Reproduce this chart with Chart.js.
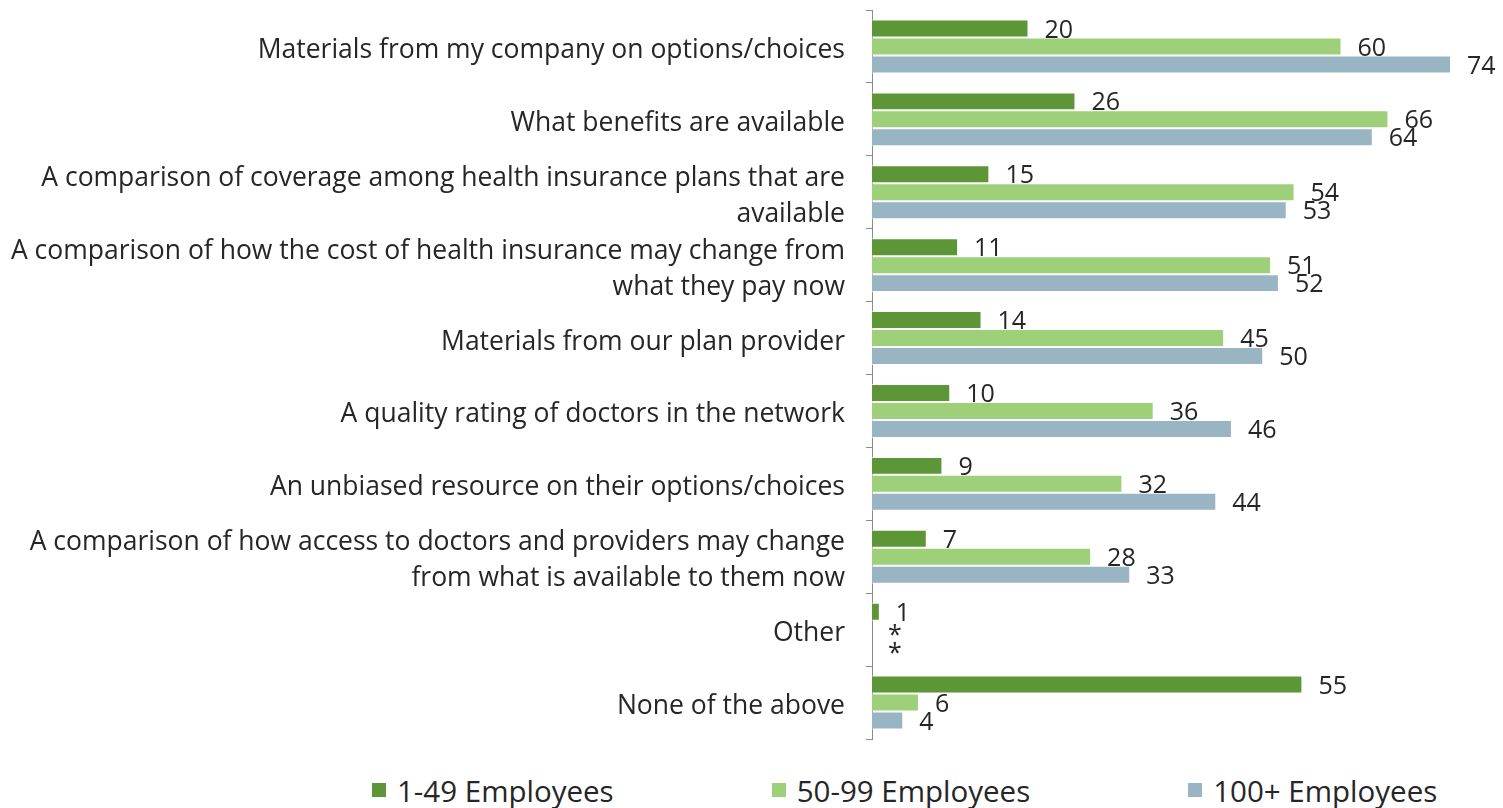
<html>
<head>
<title>Information employees need</title>
<script src="https://cdn.jsdelivr.net/npm/chart.js"></script>
<style>
  body { margin: 0; background: #fff; font-family: "Open Sans", sans-serif; }
  #wrap { position: relative; width: 1503px; height: 760px; }
  #legend { display: flex; align-items: center; padding-left: 372px; margin-top: 14px; height: 32px; color: #262626; font-size: 29.5px; white-space: nowrap; }
  #legend .item { display: flex; align-items: center; flex-shrink: 0; margin-right: 158px; }
  #legend .box { width: 14px; height: 14px; margin-right: 11px; flex-shrink: 0; }
</style>
</head>
<body>
<div id="wrap"><canvas id="myChart"></canvas></div>
<div id="legend"></div>
<script>
const categories = [
  'Materials from my company on options/choices',
  'What benefits are available',
  ['A comparison of coverage among health insurance plans that are', 'available'],
  ['A comparison of how the cost of health insurance may change from', 'what they pay now'],
  'Materials from our plan provider',
  'A quality rating of doctors in the network',
  'An unbiased resource on their options/choices',
  ['A comparison of how access to doctors and providers may change', 'from what is available to them now'],
  'Other',
  'None of the above'
];
const seriesNames = ['1-49 Employees', '50-99 Employees', '100+ Employees'];
// 0 = less than 0.5%, shown as *
const small = [20, 26, 15, 11, 14, 10, 9, 7, 1, 55];
const medium = [60, 66, 54, 51, 45, 36, 32, 28, 0, 6];
const large = [74, 64, 53, 52, 50, 46, 44, 33, 0, 4];
const colors = ['#5d9636', '#9ed07a', '#99b5c3'];

const textColor = '#262626';
const fontFamily = '"Open Sans", sans-serif';

// value labels at the end of each bar
const valueLabels = {
  id: 'valueLabels',
  afterDatasetsDraw(chart) {
    const ctx = chart.ctx;
    ctx.save();
    ctx.font = '25px ' + fontFamily;
    ctx.fillStyle = textColor;
    ctx.textAlign = 'left';
    ctx.textBaseline = 'middle';
    chart.data.datasets.forEach((ds, i) => {
      chart.getDatasetMeta(i).data.forEach((bar, j) => {
        const v = ds.data[j];
        const txt = v === 0 ? '*' : String(v);
        ctx.fillText(txt, bar.x + 16, bar.y + (v === 0 ? 6 : 2));
      });
    });
    ctx.restore();
  }
};

const datasets = [small, medium, large].map((d, i) => ({
  label: seriesNames[i],
  data: d,
  backgroundColor: colors[i],
  borderColor: 'rgba(255,255,255,0.7)',
  borderWidth: 1,
  barPercentage: 1,
  categoryPercentage: 0.74
}));

var ctx = document.getElementById('myChart').getContext('2d');
var myChart = new Chart(ctx, {
  type: 'bar',
  data: { labels: categories, datasets: datasets },
  options: {
    indexAxis: 'y',
    responsive: true,
    maintainAspectRatio: false,
    animation: false,
    layout: { padding: { top: 10, right: 5, bottom: 21, left: 0 } },
    plugins: { legend: { display: false }, tooltip: { enabled: false } },
    scales: {
      x: { display: false, min: 0, max: 80 },
      y: {
        grid: { drawOnChartArea: false, drawTicks: true, tickLength: 6, color: '#8c8c8c', offset: true },
        border: { display: true, color: '#8c8c8c', width: 1 },
        ticks: { autoSkip: false, color: textColor, padding: 21, labelOffset: 4, font: { family: fontFamily, size: 26.5, lineHeight: 1.36 } },
        afterFit(scale) {
          scale.width = 872;
          scale.paddingTop = 0;
          scale.paddingBottom = 0;
        }
      }
    }
  },
  plugins: [valueLabels]
});

// legend below the chart
const legend = document.getElementById('legend');
seriesNames.forEach((name, i) => {
  const item = document.createElement('div');
  item.className = 'item';
  const box = document.createElement('span');
  box.className = 'box';
  box.style.background = colors[i];
  const label = document.createElement('span');
  label.textContent = name;
  item.appendChild(box);
  item.appendChild(label);
  legend.appendChild(item);
});
</script>
</body>
</html>
